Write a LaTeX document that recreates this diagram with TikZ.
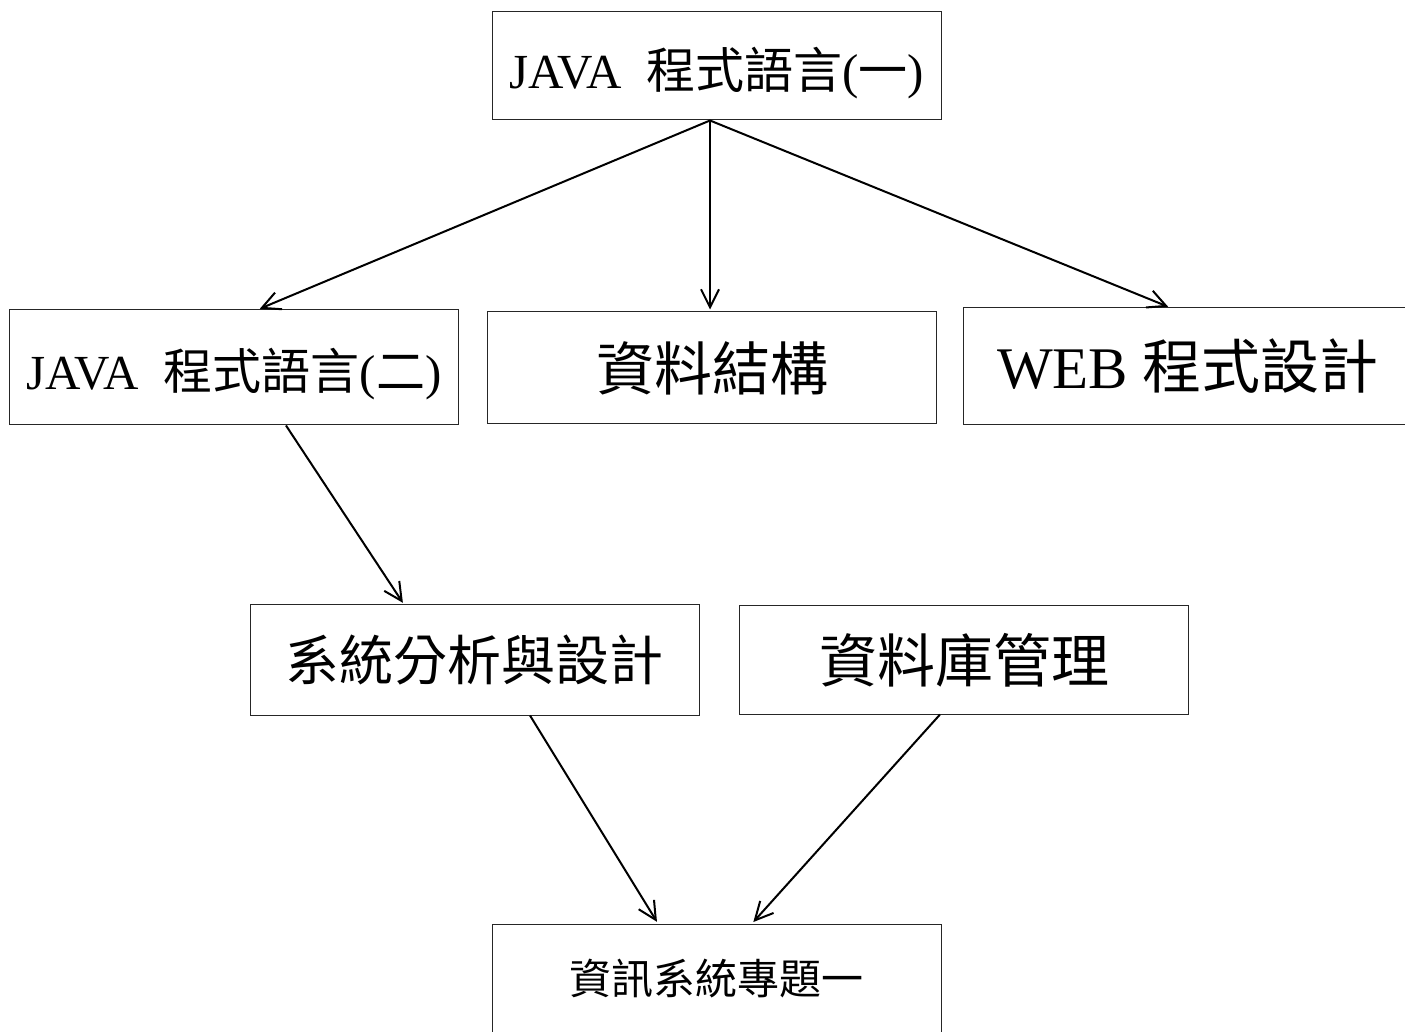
\documentclass[tikz,border=0pt]{standalone}
\usepackage{fontspec}
\setmainfont{Liberation Serif}
\newfontfamily\cjk{Noto Sans CJK TC}
\usetikzlibrary{arrows.meta}
\tikzset{>={Straight Barb[length=9pt,width=9pt]}}
\tikzset{course/.style={rectangle,draw=black!85,line width=0.5pt,inner sep=0pt,
    minimum width=224.5pt,minimum height=54pt}}
\tikzset{req/.style={->,line width=1pt,shorten >=1pt}}
\newcommand{\fs}[1]{\fontsize{#1}{1.2\dimexpr#1\relax}\selectfont}
\newcommand{\low}[1]{\raisebox{-3.5pt}[\height][\depth]{#1}}

\begin{document}
\begin{tikzpicture}[x=0.5pt,y=-0.5pt]
  \useasboundingbox (0,0) rectangle (1405,1032);

  \node [course] (java1) at (716.5,66) {\fs{24.5pt}\low{JAVA\ \ {\cjk 程式語言}({\cjk 一})}};

  \node [course,minimum height=57.5pt] (java2) at (234,367.5) {\fs{24.5pt}\low{JAVA\ \ {\cjk 程式語言}({\cjk 二})}};
  \node [course,minimum height=56pt] (ds) at (712,368) {\fs{29pt}\cjk 資料結構};
  \node [course,minimum height=58.5pt] (web) at (1188,366.5) {\fs{29.5pt}WEB {\cjk 程式設計}};

  \node [course,minimum height=55pt] (sa) at (474.5,660) {\fs{27pt}\cjk 系統分析與設計};
  \node [course] (db) at (964,660) {\fs{29pt}\cjk 資料庫管理};

  \node [course,minimum height=55pt] (proj) at (716.5,979) {\fs{21pt}\cjk 資訊系統專題一};

  \draw [req] ([xshift=-3.25pt]java1.south) -- ([xshift=12pt]java2.north);
  \draw [req] ([xshift=-3.25pt]java1.south) -- ([xshift=-1pt]ds.north);
  \draw [req] ([xshift=-3.25pt]java1.south) -- ([xshift=-9pt]web.north);

  \draw [req] ([xshift=26pt]java2.south) -- ([xshift=-35.25pt]sa.north);

  \draw [req] ([xshift=27.75pt]sa.south) -- ([xshift=-29.25pt]proj.north);
  \draw [req] ([xshift=-12pt]db.south) -- ([xshift=17.75pt]proj.north);
\end{tikzpicture}
\end{document}
